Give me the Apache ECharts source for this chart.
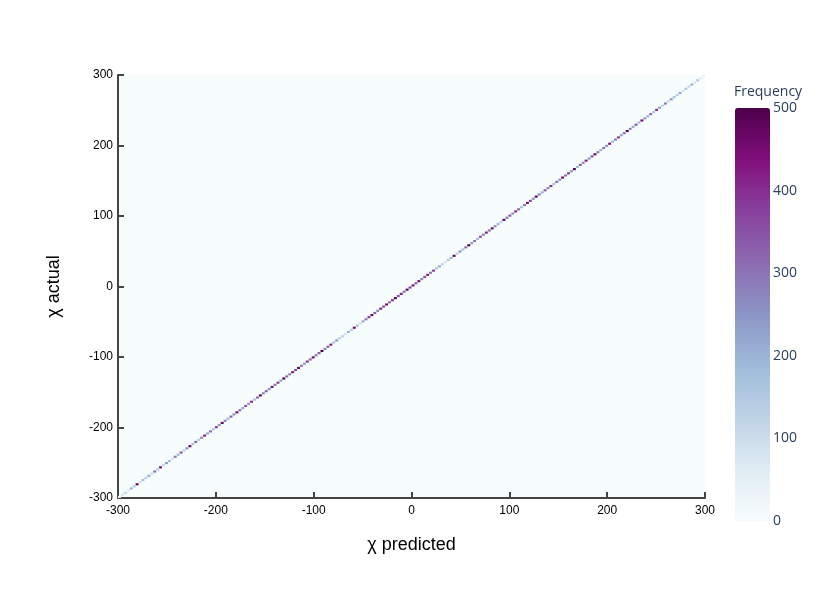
<!DOCTYPE html>
<html><head><meta charset="utf-8">
<script src="https://cdn.jsdelivr.net/npm/echarts@6/dist/echarts.min.js"></script>
<style>html,body{margin:0;padding:0;background:#fff}#c{width:831px;height:593px}</style>
</head><body><div id="c"></div>
<script>
const binStart = -300;
const binWidth = 3;
const axisTicks = [-300, -200, -100, 0, 100, 200, 300];
const colorbarTicks = [0, 100, 200, 300, 400, 500];
const freq = [
  40, 80, 120, 60, 200, 150, 480, 90, 180, 140,
  220, 100, 300, 160, 450, 120, 250, 180, 90, 300,
  200, 350, 140, 260, 480, 180, 320, 150, 280, 420,
  230, 310, 160, 380, 240, 470, 280, 200, 330, 260,
  450, 300, 220, 350, 250, 400, 180, 320, 480, 280,
  330, 260, 440, 300, 380, 230, 500, 310, 280, 420,
  360, 470, 300, 250, 400, 320, 460, 290, 350, 500,
  280, 330, 420, 180, 250, 140, 120, 90, 200, 150,
  460, 180, 100, 220, 300, 380, 470, 330, 280, 420,
  360, 450, 310, 400, 500, 350, 420, 300, 480, 380,
  440, 330, 460, 280, 350, 420, 300, 380, 160, 220,
  120, 90, 150, 200, 480, 140, 260, 180, 320, 500,
  240, 300, 180, 350, 280, 420, 310, 460, 260, 200,
  150, 480, 300, 350, 260, 410, 330, 180, 290, 440,
  370, 260, 480, 300, 220, 350, 270, 400, 180, 320,
  250, 460, 300, 380, 260, 500, 200, 330, 280, 420,
  240, 350, 470, 290, 200, 310, 260, 440, 190, 300,
  380, 230, 300, 500, 280, 220, 350, 180, 450, 250,
  200, 320, 160, 400, 240, 130, 300, 110, 250, 180,
  140, 220, 90, 160, 120, 200, 80, 150, 60, 40
];
const buPu = ['#f7fcfd','#e0ecf4','#bfd3e6','#9ebcda','#8c96c6','#8c6bb1','#88419d','#810f7c','#4d004b'];

const cells = freq.map((f, i) => {
  const v = binStart + i * binWidth;
  return [v, v, f];
});

const chart = echarts.init(document.getElementById('c'), null, {renderer: 'canvas'});
const axisFont = 'Liberation Sans, Arial, sans-serif';
chart.setOption({
  animation: false,
  backgroundColor: '#fff',
  title: {text: 'Frequency', left: 734, top: 85, padding: 0,
          textStyle: {fontFamily: 'Open Sans', fontSize: 14, fontWeight: 'normal', color: '#2a3f5f'}},
  grid: [
    {left: 118, top: 75, width: 587, height: 423, show: true, backgroundColor: '#f7fcfd', borderWidth: 0},
    {left: 735, top: 108, width: 35, height: 413, show: false}
  ],
  xAxis: [
    {type: 'value', gridIndex: 0, min: axisTicks[0], max: axisTicks[axisTicks.length-1], interval: 100,
     name: 'χ predicted', nameLocation: 'middle', nameGap: 38,
     nameTextStyle: {fontFamily: axisFont, fontSize: 18, color: '#000'},
     axisLine: {show: true, onZero: false, lineStyle: {color: '#444', width: 2}},
     axisTick: {show: true, inside: true, length: 6, lineStyle: {color: '#444', width: 2}},
     axisLabel: {color: '#000', fontFamily: axisFont, fontSize: 12, margin: 7},
     splitLine: {show: false}},
    {type: 'value', gridIndex: 1, show: false, min: 0, max: 1}
  ],
  yAxis: [
    {type: 'value', gridIndex: 0, min: axisTicks[0], max: axisTicks[axisTicks.length-1], interval: 100,
     name: 'χ actual', nameLocation: 'middle', nameGap: 55,
     nameTextStyle: {fontFamily: axisFont, fontSize: 18, color: '#000'},
     axisLine: {show: true, onZero: false, lineStyle: {color: '#444', width: 2}},
     axisTick: {show: true, inside: true, length: 6, lineStyle: {color: '#444', width: 2}},
     axisLabel: {color: '#000', fontFamily: axisFont, fontSize: 12, margin: 5},
     splitLine: {show: false}},
    {type: 'value', gridIndex: 1, position: 'right',
     min: colorbarTicks[0], max: colorbarTicks[colorbarTicks.length-1], interval: 100,
     axisLine: {show: false}, axisTick: {show: false}, splitLine: {show: false},
     axisLabel: {color: '#2a3f5f', fontFamily: 'Open Sans', fontSize: 14, margin: 3, padding: [4, 0, 0, 0]}}
  ],
  visualMap: {
    type: 'continuous', min: 0, max: 500, seriesIndex: 0, dimension: 2,
    left: 735, top: 108, itemWidth: 35, itemHeight: 413, padding: 0,
    calculable: false, showLabel: false, text: null, realtime: false,
    inRange: {color: buPu}
  },
  series: [{
    type: 'custom',
    xAxisIndex: 0, yAxisIndex: 0,
    encode: {x: 0, y: 1},
    data: cells,
    renderItem: function (params, api) {
      const x0 = api.value(0), y0 = api.value(1);
      const a = api.coord([x0, y0 + binWidth]);
      const b = api.coord([x0 + binWidth, y0]);
      return {
        type: 'rect',
        shape: {x: a[0], y: a[1], width: b[0] - a[0], height: b[1] - a[1]},
        style: {fill: api.visual('color')}
      };
    }
  }]
});
</script></body></html>
